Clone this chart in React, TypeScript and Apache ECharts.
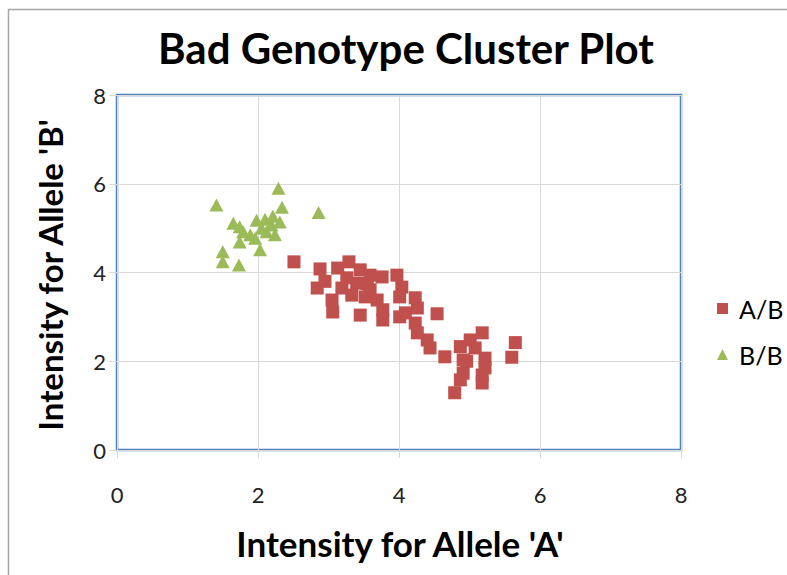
import React, { useEffect, useRef } from "react";
import * as echarts from "echarts";

const chartTitle = "Bad Genotype Cluster Plot";
const xAxisTitle = "Intensity for Allele 'A'";
const yAxisTitle = "Intensity for Allele 'B'";
const seriesNames = ["A/B", "B/B"];

const abPoints: [number, number][] = [
  [2.51, 4.24], [2.88, 4.08], [2.84, 3.65], [3.05, 3.38], [3.06, 3.11],
  [3.13, 4.10], [3.29, 4.24], [3.45, 4.06], [3.26, 3.88], [3.40, 3.76],
  [3.59, 3.94], [3.76, 3.90], [3.97, 3.94], [4.04, 3.67], [4.01, 3.45],
  [4.23, 3.43], [4.26, 3.20], [4.54, 3.07], [3.59, 3.61], [3.69, 3.38],
  [3.45, 3.04], [3.77, 3.16], [3.77, 2.93], [4.01, 3.00], [4.23, 2.86],
  [4.26, 2.64], [4.40, 2.48], [4.44, 2.30], [4.65, 2.10], [4.87, 2.33],
  [4.91, 2.03], [3.33, 3.49], [3.19, 3.65], [3.52, 3.45], [5.01, 2.48],
  [5.18, 2.64], [5.08, 2.30], [5.22, 2.07], [5.22, 1.85], [4.91, 1.73],
  [4.87, 1.58], [4.79, 1.29], [5.18, 1.51], [5.65, 2.42], [5.60, 2.09],
  [4.96, 2.00], [5.18, 1.69], [4.09, 3.09], [2.95, 3.80], [3.55, 3.75],
];

const bbPoints: [number, number][] = [
  [1.41, 5.52], [2.29, 5.90], [2.86, 5.35], [2.34, 5.47], [1.65, 5.11],
  [1.74, 5.03], [1.98, 5.18], [2.10, 5.20], [2.21, 5.27], [2.31, 5.14],
  [2.19, 5.07], [2.05, 5.00], [1.79, 4.92], [1.74, 4.69], [1.96, 4.77],
  [2.12, 4.92], [2.24, 4.85], [2.03, 4.51], [1.50, 4.47], [1.50, 4.24],
  [1.73, 4.17], [1.89, 4.85],
];

const axisMin = 0;
const axisMax = 8;
const axisInterval = 2;

export default function App() {
  const ref = useRef<HTMLDivElement>(null);

  useEffect(() => {
    if (!ref.current) return;
    const chart = echarts.init(ref.current, null, { renderer: "svg" });
    const font = "Lato, 'Open Sans', sans-serif";
    const gridColor = "#D9D9D9";
    const axisCommon = {
      type: "value" as const,
      min: axisMin,
      max: axisMax,
      interval: axisInterval,
      axisLine: { show: false },
      axisTick: { show: true, length: 8, lineStyle: { color: gridColor, width: 1 } },
      splitLine: { show: true, lineStyle: { color: gridColor, width: 1 } },
    };
    chart.setOption({
      animation: false,
      backgroundColor: "#fff",
      title: {
        text: chartTitle,
        left: 153,
        top: 22,
        textStyle: { fontFamily: font, fontSize: 42, fontWeight: "bold", color: "#000" },
      },
      grid: {
        left: 117,
        top: 95,
        right: 106,
        bottom: 125,
        show: true,
        borderColor: "#4F81BD",
        borderWidth: 2.5,
        backgroundColor: "transparent",
      },
      xAxis: {
        ...axisCommon,
        axisLabel: { fontFamily: font, fontSize: 22, color: "#222", margin: 33 },
      },
      yAxis: {
        ...axisCommon,
        axisLabel: { fontFamily: font, fontSize: 22, color: "#222", margin: 11 },
      },
      legend: {
        orient: "vertical",
        left: 712,
        top: 291,
        itemWidth: 11,
        itemHeight: 11,
        itemGap: 21,
        textStyle: { fontFamily: font, fontSize: 25, color: "#000", padding: [0, 0, 0, 6] },
        data: [
          { name: seriesNames[0], icon: "rect" },
          { name: seriesNames[1], icon: "triangle" },
        ],
      },
      series: [
        {
          name: seriesNames[0],
          type: "scatter",
          symbol: "rect",
          symbolSize: 13,
          itemStyle: { color: "#C0504D", opacity: 1 },
          data: abPoints,
        },
        {
          name: seriesNames[1],
          type: "scatter",
          symbol: "triangle",
          symbolSize: [14, 13],
          itemStyle: { color: "#9BBB59", opacity: 1 },
          data: bbPoints,
        },
      ],
      graphic: [
        {
          type: "rect",
          shape: { x: 8.5, y: 9.5, width: 800, height: 600 },
          style: { fill: "none", stroke: "#A6A6A6", lineWidth: 1.5 },
          silent: true,
        },
        {
          type: "text",
          x: 400,
          y: 543,
          style: {
            text: xAxisTitle,
            align: "center",
            verticalAlign: "middle",
            fontFamily: font,
            fontSize: 35,
            fontWeight: "bold",
            fill: "#000",
          },
        },
        {
          type: "text",
          x: 50,
          y: 275,
          rotation: Math.PI / 2,
          style: {
            text: yAxisTitle,
            align: "center",
            verticalAlign: "middle",
            fontFamily: font,
            fontSize: 33,
            fontWeight: "bold",
            fill: "#000",
          },
        },
      ],
    });
    return () => chart.dispose();
  }, []);

  return (
    <div
      ref={ref}
      style={{ position: "fixed", left: 0, top: 0, width: 787, height: 575, background: "#fff" }}
    />
  );
}
